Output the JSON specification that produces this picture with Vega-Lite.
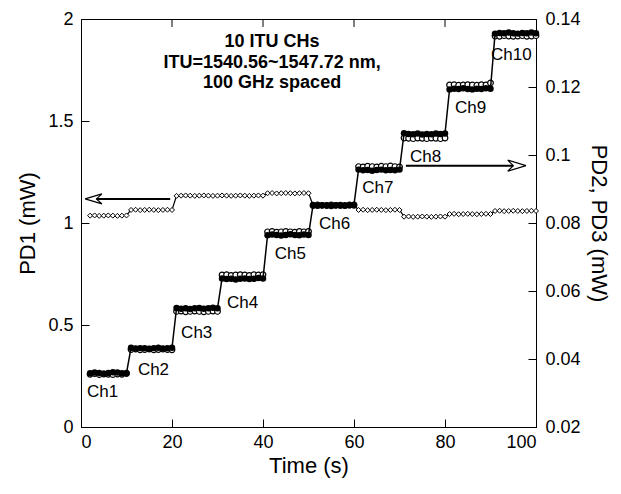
{
  "$schema": "https://vega.github.io/schema/vega-lite/v6.json",
  "width": 455,
  "height": 408,
  "autosize": {"type": "none"},
  "padding": {"left": 81, "top": 19, "right": 85, "bottom": 67},
  "background": "white",
  "config": {
    "font": "Liberation Sans",
    "view": {"stroke": "black", "strokeWidth": 1},
    "axis": {
      "grid": false,
      "domainColor": "black",
      "tickColor": "black",
      "labelColor": "black",
      "titleColor": "black",
      "labelFont": "Liberation Sans",
      "titleFont": "Liberation Sans",
      "labelFontSize": 18,
      "titleFontSize": 22,
      "titleFontWeight": "normal",
      "tickSize": -8,
      "tickWidth": 1,
      "domainWidth": 1
    }
  },
  "datasets": {
    "pd": [
      {"t":2,"a":1.036,"b":0.0358,"c":0.0355},{"t":3,"a":1.037,"b":0.0360,"c":0.0357},{"t":4,"a":1.035,"b":0.0359,"c":0.0354},{"t":5,"a":1.036,"b":0.0357,"c":0.0356},{"t":6,"a":1.037,"b":0.0359,"c":0.0355},{"t":7,"a":1.036,"b":0.0361,"c":0.0354},{"t":8,"a":1.035,"b":0.0360,"c":0.0356},{"t":9,"a":1.036,"b":0.0358,"c":0.0355},{"t":10,"a":1.037,"b":0.0359,"c":0.0357},
      {"t":11,"a":1.064,"b":0.0433,"c":0.0428},{"t":12,"a":1.065,"b":0.0431,"c":0.0429},{"t":13,"a":1.063,"b":0.0432,"c":0.0427},{"t":14,"a":1.064,"b":0.0432,"c":0.0428},{"t":15,"a":1.065,"b":0.0430,"c":0.0429},{"t":16,"a":1.064,"b":0.0432,"c":0.0427},{"t":17,"a":1.063,"b":0.0433,"c":0.0428},{"t":18,"a":1.064,"b":0.0431,"c":0.0429},{"t":19,"a":1.065,"b":0.0432,"c":0.0428},{"t":20,"a":1.064,"b":0.0433,"c":0.0427},
      {"t":21,"a":1.133,"b":0.0550,"c":0.0540},{"t":22,"a":1.134,"b":0.0548,"c":0.0541},{"t":23,"a":1.135,"b":0.0549,"c":0.0539},{"t":24,"a":1.134,"b":0.0547,"c":0.0540},{"t":25,"a":1.133,"b":0.0549,"c":0.0541},{"t":26,"a":1.134,"b":0.0550,"c":0.0540},{"t":27,"a":1.135,"b":0.0548,"c":0.0539},{"t":28,"a":1.134,"b":0.0549,"c":0.0540},{"t":29,"a":1.133,"b":0.0551,"c":0.0541},{"t":30,"a":1.134,"b":0.0549,"c":0.0540},
      {"t":31,"a":1.135,"b":0.0637,"c":0.0647},{"t":32,"a":1.134,"b":0.0635,"c":0.0648},{"t":33,"a":1.133,"b":0.0636,"c":0.0646},{"t":34,"a":1.134,"b":0.0634,"c":0.0647},{"t":35,"a":1.135,"b":0.0636,"c":0.0648},{"t":36,"a":1.134,"b":0.0637,"c":0.0647},{"t":37,"a":1.133,"b":0.0635,"c":0.0646},{"t":38,"a":1.134,"b":0.0636,"c":0.0648},{"t":39,"a":1.135,"b":0.0638,"c":0.0647},{"t":40,"a":1.134,"b":0.0637,"c":0.0648},
      {"t":41,"a":1.146,"b":0.0764,"c":0.0774},{"t":42,"a":1.147,"b":0.0766,"c":0.0775},{"t":43,"a":1.145,"b":0.0765,"c":0.0773},{"t":44,"a":1.146,"b":0.0763,"c":0.0774},{"t":45,"a":1.147,"b":0.0765,"c":0.0775},{"t":46,"a":1.146,"b":0.0767,"c":0.0774},{"t":47,"a":1.145,"b":0.0765,"c":0.0773},{"t":48,"a":1.146,"b":0.0764,"c":0.0775},{"t":49,"a":1.147,"b":0.0766,"c":0.0774},{"t":50,"a":1.146,"b":0.0765,"c":0.0775},
      {"t":51,"a":1.088,"b":0.0853,"c":0.0851},{"t":52,"a":1.089,"b":0.0851,"c":0.0853},{"t":53,"a":1.087,"b":0.0852,"c":0.0852},{"t":54,"a":1.088,"b":0.0852,"c":0.0851},{"t":55,"a":1.089,"b":0.0850,"c":0.0853},{"t":56,"a":1.088,"b":0.0852,"c":0.0852},{"t":57,"a":1.087,"b":0.0853,"c":0.0851},{"t":58,"a":1.088,"b":0.0851,"c":0.0852},{"t":59,"a":1.089,"b":0.0852,"c":0.0853},{"t":60,"a":1.088,"b":0.0854,"c":0.0852},
      {"t":61,"a":1.064,"b":0.0957,"c":0.0966},{"t":62,"a":1.065,"b":0.0955,"c":0.0965},{"t":63,"a":1.063,"b":0.0956,"c":0.0967},{"t":64,"a":1.064,"b":0.0954,"c":0.0966},{"t":65,"a":1.065,"b":0.0956,"c":0.0965},{"t":66,"a":1.064,"b":0.0957,"c":0.0967},{"t":67,"a":1.063,"b":0.0955,"c":0.0966},{"t":68,"a":1.064,"b":0.0956,"c":0.0968},{"t":69,"a":1.065,"b":0.0955,"c":0.0966},{"t":70,"a":1.064,"b":0.0957,"c":0.0965},
      {"t":71,"a":1.031,"b":0.1064,"c":0.1050},{"t":72,"a":1.032,"b":0.1062,"c":0.1049},{"t":73,"a":1.030,"b":0.1061,"c":0.1048},{"t":74,"a":1.031,"b":0.1063,"c":0.1050},{"t":75,"a":1.032,"b":0.1060,"c":0.1049},{"t":76,"a":1.031,"b":0.1062,"c":0.1048},{"t":77,"a":1.030,"b":0.1061,"c":0.1050},{"t":78,"a":1.031,"b":0.1063,"c":0.1049},{"t":79,"a":1.032,"b":0.1062,"c":0.1048},{"t":80,"a":1.031,"b":0.1063,"c":0.1050},
      {"t":81,"a":1.044,"b":0.1193,"c":0.1206},{"t":82,"a":1.045,"b":0.1195,"c":0.1207},{"t":83,"a":1.043,"b":0.1194,"c":0.1205},{"t":84,"a":1.044,"b":0.1196,"c":0.1206},{"t":85,"a":1.045,"b":0.1194,"c":0.1207},{"t":86,"a":1.044,"b":0.1193,"c":0.1206},{"t":87,"a":1.043,"b":0.1195,"c":0.1205},{"t":88,"a":1.044,"b":0.1194,"c":0.1207},{"t":89,"a":1.045,"b":0.1196,"c":0.1206},{"t":90,"a":1.044,"b":0.1195,"c":0.1212},
      {"t":91,"a":1.059,"b":0.1357,"c":0.1350},{"t":92,"a":1.060,"b":0.1359,"c":0.1349},{"t":93,"a":1.058,"b":0.1358,"c":0.1351},{"t":94,"a":1.059,"b":0.1360,"c":0.1350},{"t":95,"a":1.060,"b":0.1358,"c":0.1349},{"t":96,"a":1.059,"b":0.1357,"c":0.1350},{"t":97,"a":1.058,"b":0.1359,"c":0.1351},{"t":98,"a":1.059,"b":0.1358,"c":0.1349},{"t":99,"a":1.060,"b":0.1360,"c":0.1350},{"t":100,"a":1.059,"b":0.1358,"c":0.1351}
    ],
    "shafts": [
      {"t": 3.4, "t2": 19.6, "v": 1.118},
      {"t": 71.4, "t2": 95.0, "v": 1.281}
    ],
    "heads": [
      {"id": "L", "k": 0, "t": 0.9, "v": 1.118},
      {"id": "L", "k": 1, "t": 4.6, "v": 1.1425},
      {"id": "L", "k": 2, "t": 3.4, "v": 1.118},
      {"id": "L", "k": 3, "t": 4.6, "v": 1.0935},
      {"id": "L", "k": 4, "t": 0.9, "v": 1.118},
      {"id": "R", "k": 0, "t": 97.8, "v": 1.281},
      {"id": "R", "k": 1, "t": 93.8, "v": 1.308},
      {"id": "R", "k": 2, "t": 95.0, "v": 1.281},
      {"id": "R", "k": 3, "t": 93.8, "v": 1.254},
      {"id": "R", "k": 4, "t": 97.8, "v": 1.281}
    ],
    "topticks": [
      {"t": 20, "v": 2, "v2": 1.961},
      {"t": 40, "v": 2, "v2": 1.961},
      {"t": 60, "v": 2, "v2": 1.961},
      {"t": 80, "v": 2, "v2": 1.961}
    ],
    "note": [
      {"t": 42, "v": 1.887, "label": "10 ITU CHs"},
      {"t": 42, "v": 1.784, "label": "ITU=1540.56~1547.72 nm,"},
      {"t": 42, "v": 1.686, "label": "100 GHz spaced"}
    ],
    "ch": [
      {"t": 1.3, "v": 0.0303, "label": "Ch1"},
      {"t": 12.5, "v": 0.0367, "label": "Ch2"},
      {"t": 22.0, "v": 0.0477, "label": "Ch3"},
      {"t": 32.1, "v": 0.0565, "label": "Ch4"},
      {"t": 42.6, "v": 0.0709, "label": "Ch5"},
      {"t": 52.3, "v": 0.0797, "label": "Ch6"},
      {"t": 61.8, "v": 0.0903, "label": "Ch7"},
      {"t": 72.3, "v": 0.0994, "label": "Ch8"},
      {"t": 82.2, "v": 0.1138, "label": "Ch9"},
      {"t": 90.1, "v": 0.1294, "label": "Ch10"}
    ]
  },
  "encoding": {
    "x": {
      "field": "t",
      "type": "quantitative",
      "scale": {"domain": [0, 100], "nice": false, "zero": false},
      "axis": {"title": "Time (s)", "values": [0, 20, 40, 60, 80, 100], "labelPadding": 14, "titlePadding": 4}
    }
  },
  "layer": [
    {
      "layer": [
        {
          "data": {"name": "pd"},
          "mark": {"type": "line", "color": "black", "strokeWidth": 1.2},
          "encoding": {
            "y": {"field": "a", "type": "quantitative", "title": "PD1 (mW)",
              "scale": {"domain": [0, 2], "nice": false, "zero": false},
              "axis": {"title": "PD1 (mW)", "values": [0, 0.5, 1, 1.5, 2], "format": "~g", "labelPadding": 16, "titlePadding": 8}}
          }
        },
        {
          "data": {"name": "pd"},
          "mark": {"type": "point", "shape": "diamond", "filled": true, "fill": "white", "stroke": "black", "strokeWidth": 1, "size": 25, "opacity": 1},
          "encoding": {
            "y": {"field": "a", "type": "quantitative", "title": "PD1 (mW)"}
          }
        },
        {
          "data": {"name": "topticks"},
          "mark": {"type": "rule", "color": "black", "strokeWidth": 1},
          "encoding": {
            "y": {"field": "v", "type": "quantitative", "title": "PD1 (mW)"},
            "y2": {"field": "v2"}
          }
        },
        {
          "data": {"name": "shafts"},
          "mark": {"type": "rule", "color": "black", "strokeWidth": 2},
          "encoding": {
            "x2": {"field": "t2"},
            "y": {"field": "v", "type": "quantitative", "title": "PD1 (mW)"}
          }
        },
        {
          "data": {"name": "heads"},
          "mark": {"type": "line", "color": "black", "strokeWidth": 1.2, "strokeJoin": "miter"},
          "encoding": {
            "y": {"field": "v", "type": "quantitative", "title": "PD1 (mW)"},
            "detail": {"field": "id"},
            "order": {"field": "k", "type": "quantitative"}
          }
        },
        {
          "data": {"name": "note"},
          "mark": {"type": "text", "font": "Liberation Sans", "fontSize": 18, "fontWeight": "bold", "align": "center", "baseline": "middle", "color": "black"},
          "encoding": {
            "y": {"field": "v", "type": "quantitative", "title": "PD1 (mW)"},
            "text": {"field": "label"}
          }
        }
      ]
    },
    {
      "layer": [
        {
          "data": {"name": "pd"},
          "mark": {"type": "point", "shape": "circle", "filled": true, "fill": "white", "stroke": "black", "strokeWidth": 1.2, "size": 32, "opacity": 1},
          "encoding": {
            "y": {"field": "c", "type": "quantitative", "title": "PD2, PD3 (mW)",
              "scale": {"domain": [0.02, 0.14], "nice": false, "zero": false},
              "axis": {"orient": "right", "title": "PD2, PD3 (mW)", "values": [0.02, 0.04, 0.06, 0.08, 0.1, 0.12, 0.14], "format": "~g", "labelPadding": 17, "titlePadding": 6}}
          }
        },
        {
          "data": {"name": "pd"},
          "mark": {"type": "line", "color": "black", "strokeWidth": 1.5},
          "encoding": {
            "y": {"field": "b", "type": "quantitative", "title": "PD2, PD3 (mW)"}
          }
        },
        {
          "data": {"name": "pd"},
          "mark": {"type": "point", "shape": "circle", "filled": true, "color": "black", "size": 42, "opacity": 1},
          "encoding": {
            "y": {"field": "b", "type": "quantitative", "title": "PD2, PD3 (mW)"}
          }
        },
        {
          "data": {"name": "ch"},
          "mark": {"type": "text", "font": "Liberation Sans", "fontSize": 17, "align": "left", "baseline": "middle", "color": "black"},
          "encoding": {
            "y": {"field": "v", "type": "quantitative", "title": "PD2, PD3 (mW)"},
            "text": {"field": "label"}
          }
        }
      ]
    }
  ],
  "resolve": {"scale": {"y": "independent"}}
}
